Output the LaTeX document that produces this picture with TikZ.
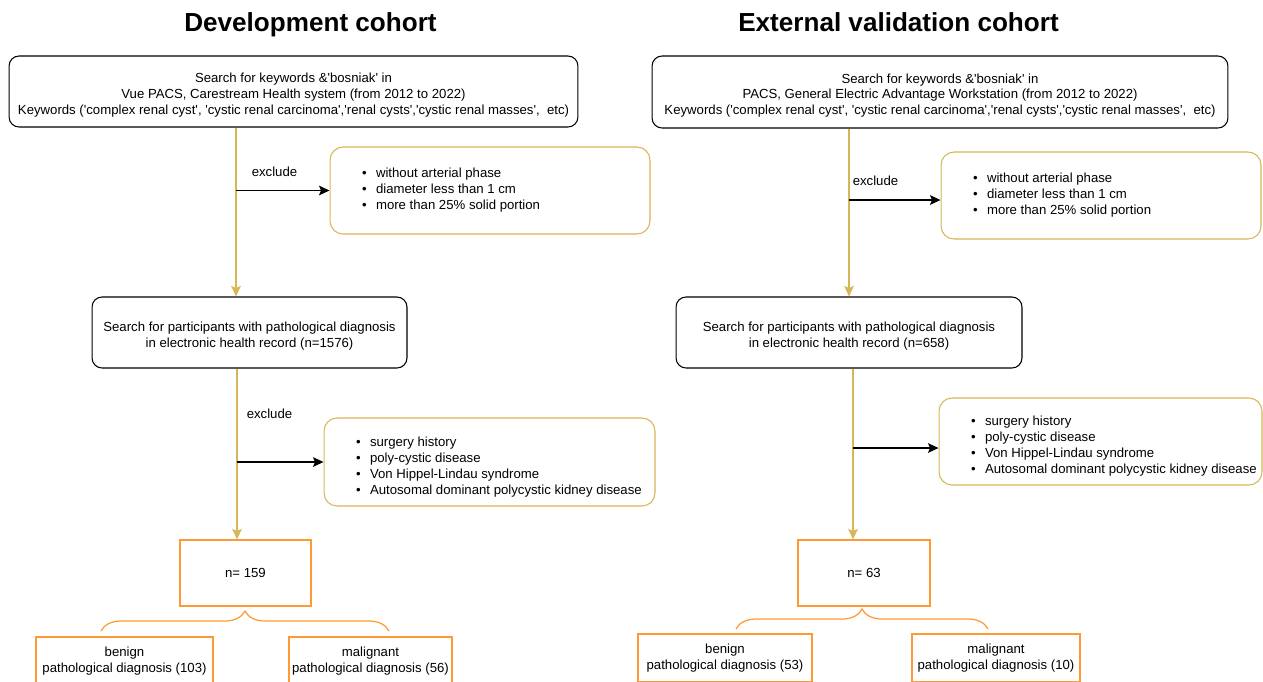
\documentclass[tikz,border=0pt]{standalone}
\usepackage{fontspec}
\setmainfont{Liberation Sans}[Ligatures=TeXOff]
\usetikzlibrary{arrows.meta, positioning, decorations.pathreplacing}
\definecolor{goldline}{HTML}{D6B656}
\definecolor{orangebox}{HTML}{FF9933}
\newcommand{\blt}{\hspace*{0.54cm}\makebox[0.28cm][l]{\textbullet}}
\newcommand{\topstrut}{\rule{0pt}{9.5pt}}
\newcommand{\liststrut}{\rule{0pt}{11pt}}

\begin{document}
\begin{tikzpicture}[
    x=0.02cm, y=-0.02cm,
    cohorttitle/.style = {anchor=base, font=\fontsize{14.85}{17}\selectfont\bfseries},
    searchbox/.style = {rectangle, rounded corners=0.2cm, draw=black, line width=0.6pt, inner sep=0pt,
                        text centered, align=center, font=\fontsize{7.5}{9.07}\selectfont},
    excludebox/.style = {rectangle, rounded corners=0.26cm, draw=goldline, line width=0.6pt,
                         inner xsep=0.1cm, inner ysep=0pt, align=flush left, font=\fontsize{7.5}{9.07}\selectfont},
    countbox/.style = {rectangle, draw=orangebox, line width=0.7pt, inner sep=0pt,
                       text centered, align=center, font=\fontsize{7.5}{9.07}\selectfont},
    exclabel/.style = {font=\fontsize{7.5}{9.07}\selectfont},
    flowline/.style = {draw=goldline, line width=0.7pt, -{Stealth[length=6pt, width=5.5pt, inset=1.2pt]}},
    excludearrow/.style = {draw=black, line width=0.6pt, -{Stealth[length=6pt, width=5.5pt, inset=1.2pt]}},
    splitbrace/.style = {draw=orangebox, line width=0.7pt, decorate, decoration={brace, amplitude=0.4cm}}
]

\useasboundingbox (0,0) rectangle (1263,681);

% Titles
\node (titleL) [cohorttitle] at (310.5, 31) {Development cohort};
\node (titleR) [cohorttitle] at (898.5, 31) {External validation cohort};

% Nodes - Development cohort
\node (topL) [searchbox, minimum width=11.38cm, minimum height=1.42cm] at (293.5, 91.5)
    {\topstrut Search for keywords \&'bosniak' in \\ Vue PACS, Carestream Health system (from 2012 to 2022) \\
     Keywords ('complex renal cyst', 'cystic renal carcinoma','renal cysts','cystic renal masses',~~etc)};
\node (exL1) [excludebox, text width=6.2cm, minimum height=1.74cm] at (490, 190.5)
    {\blt without arterial phase \\ \blt diameter less than 1 cm \\ \blt more than 25\% solid portion};
\node (midL) [searchbox, minimum width=6.3cm, minimum height=1.42cm] at (249.5, 332.5)
    {\topstrut Search for participants with pathological diagnosis \\ in electronic health record (n=1576)};
\node (exL2) [excludebox, text width=6.42cm, minimum height=1.76cm] at (489.5, 462)
    {\liststrut\blt surgery history \\ \blt poly-cystic disease \\ \blt Von Hippel-Lindau syndrome \\
     \blt Autosomal dominant polycystic kidney disease};
\node (nL) [countbox, minimum width=2.62cm, minimum height=1.32cm] at (245.5, 573) {n= 159};
\node (benL) [countbox, minimum width=3.54cm, minimum height=0.96cm] at (124.5, 661)
    {benign \\ pathological diagnosis (103)};
\node (malL) [countbox, minimum width=3.26cm, minimum height=0.96cm] at (370.5, 661)
    {malignant \\ pathological diagnosis (56)};

% Nodes - External validation cohort
\node (topR) [searchbox, minimum width=11.52cm, minimum height=1.44cm] at (940, 92)
    {\topstrut Search for keywords \&'bosniak' in \\ PACS, General Electric Advantage Workstation (from 2012 to 2022) \\
     Keywords ('complex renal cyst', 'cystic renal carcinoma','renal cysts','cystic renal masses',~~etc)};
\node (exR1) [excludebox, text width=6.2cm, minimum height=1.74cm] at (1101, 195.5)
    {\blt without arterial phase \\ \blt diameter less than 1 cm \\ \blt more than 25\% solid portion};
\node (midR) [searchbox, minimum width=6.92cm, minimum height=1.42cm] at (849, 332.5)
    {\topstrut Search for participants with pathological diagnosis \\ in electronic health record (n=658)};
\node (exR2) [excludebox, text width=6.26cm, minimum height=1.74cm] at (1100.5, 441.5)
    {\liststrut\blt surgery history \\ \blt poly-cystic disease \\ \blt Von Hippel-Lindau syndrome \\
     \blt Autosomal dominant polycystic kidney disease};
\node (nR) [countbox, minimum width=2.64cm, minimum height=1.32cm] at (864, 573) {n= 63};
\node (benR) [countbox, minimum width=3.48cm, minimum height=0.96cm] at (725, 658)
    {benign \\ pathological diagnosis (53)};
\node (malR) [countbox, minimum width=3.36cm, minimum height=0.96cm] at (996, 658)
    {malignant \\ pathological diagnosis (10)};

% Exclude labels
\node (exclL1) [exclabel] at (274.5, 172) {exclude};
\node (exclL2) [exclabel] at (269.5, 414) {exclude};
\node (exclR1) [exclabel] at (875.5, 181) {exclude};

% Line positions
\coordinate (lineL1) at ([xshift=-0.27cm]midL.north);
\coordinate (lineL2) at ([xshift=-0.25cm]midL.south);
\coordinate (lineR2) at ([xshift=-0.22cm]nR.north);
\coordinate (inR1) at ([yshift=-0.09cm]exR1.west);
\coordinate (inR2) at ([yshift=-0.13cm]exR2.west);

% Arrows - main flow
\draw [flowline] (topL.south -| lineL1) -- (lineL1);
\draw [flowline] (lineL2) -- (lineL2 |- nL.north);
\draw [flowline] (topR.south -| midR.north) -- (midR.north);
\draw [flowline] (midR.south -| lineR2) -- (lineR2);

% Arrows - exclusions
\draw [excludearrow] (exL1.west -| lineL1) -- (exL1.west);
\draw [excludearrow] (exL2.west -| lineL2) -- (exL2.west);
\draw [excludearrow] (inR1 -| midR.north) -- (inR1);
\draw [excludearrow] (inR2 -| lineR2) -- (inR2);

% Braces
\coordinate (braceL1) at (101, 631);
\coordinate (braceL2) at (389, 631);
\coordinate (braceR1) at (736, 629);
\coordinate (braceR2) at (988, 629);
\draw [splitbrace] (braceL1) -- (braceL2);
\draw [splitbrace] (braceR1) -- (braceR2);

\end{tikzpicture}
\end{document}
